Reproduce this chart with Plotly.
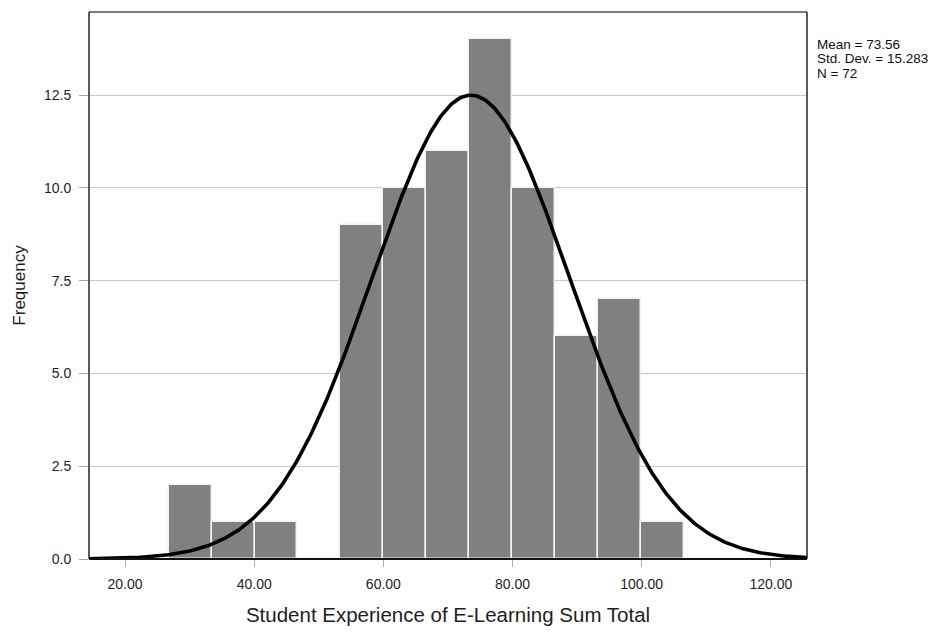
import numpy as np
import plotly.graph_objects as go

# Histogram of summed e-learning experience scores
bin_start = 26.75
bin_width = 6.65
counts = [2, 1, 1, 0, 9, 10, 11, 14, 10, 6, 7, 1]

# Summary statistics shown beside the plot
mean_val = 73.56
sd_val = 15.283
n_val = 72

x_ticks = [20, 40, 60, 80, 100, 120]
x_tick_labels = ["20.00", "40.00", "60.00", "80.00", "100.00", "120.00"]
y_ticks = [0, 2.5, 5, 7.5, 10, 12.5]
y_tick_labels = ["0.0", "2.5", "5.0", "7.5", "10.0", "12.5"]

x_range = [14.42, 125.6]
y_range = [0, 14.74]

centers = [bin_start + bin_width * (i + 0.5) for i in range(len(counts))]

# Fitted normal curve scaled to histogram frequencies
xs = np.linspace(x_range[0], x_range[1], 400)
ys = n_val * bin_width / (sd_val * np.sqrt(2 * np.pi)) * np.exp(-0.5 * ((xs - mean_val) / sd_val) ** 2)

fig = go.Figure()
fig.add_trace(go.Bar(
    x=centers, y=counts, width=[bin_width] * len(counts),
    marker=dict(color="#808080", line=dict(color="#f2f2f2", width=1.5)),
    hoverinfo="skip",
))
fig.add_trace(go.Scatter(
    x=xs, y=ys, mode="lines",
    line=dict(color="#000000", width=3.6),
    hoverinfo="skip",
))

font_family = "Liberation Sans, Arial, sans-serif"
ink = "#1e1e1e"

# Stats block, one line per annotation for tight spacing
stat_lines = [f"Mean = {mean_val:.2f}", f"Std. Dev. = {sd_val:.3f}", f"N = {n_val}"]
plot_top_px, plot_h_px = 12, 547
stat_rows_px = [44.5, 59.0, 73.5]
annotations = [
    dict(xref="paper", yref="paper", x=1.0115, y=1 - (py - plot_top_px) / plot_h_px,
         xanchor="left", yanchor="middle", align="left", showarrow=False,
         text=txt, font=dict(size=13.5, color="#111111", family=font_family))
    for txt, py in zip(stat_lines, stat_rows_px)
]

fig.update_layout(
    width=932, height=633,
    margin=dict(l=89, r=125, t=12, b=74),
    paper_bgcolor="white", plot_bgcolor="white",
    showlegend=False,
    bargap=0,
    font=dict(family=font_family, color=ink),
    xaxis=dict(
        range=x_range, tickvals=x_ticks, ticktext=x_tick_labels,
        showgrid=False, zeroline=False,
        ticks="outside", ticklen=7, tickcolor="#aaaaaa", tickwidth=1,
        ticklabelstandoff=5,
        tickfont=dict(size=14, color=ink),
        title=dict(text="Student Experience of E-Learning Sum Total",
                   font=dict(size=20.5, color=ink), standoff=16),
    ),
    yaxis=dict(
        range=y_range, tickvals=y_ticks, ticktext=y_tick_labels,
        showgrid=True, gridcolor="#c8c8c8", gridwidth=1,
        zeroline=False,
        ticks="outside", ticklen=9, tickcolor="#aaaaaa", tickwidth=1,
        ticklabelstandoff=5,
        tickfont=dict(size=14, color=ink),
        title=dict(text="Frequency", font=dict(size=17, color=ink), standoff=14),
    ),
    shapes=[
        dict(type="line", xref="paper", yref="paper", x0=0, x1=1, y0=1, y1=1,
             line=dict(color="#7a7a7a", width=2)),
        dict(type="line", xref="paper", yref="paper", x0=1, x1=1, y0=0, y1=1,
             line=dict(color="#222222", width=1.5)),
        dict(type="line", xref="paper", yref="paper", x0=0, x1=0, y0=0, y1=1,
             line=dict(color="#222222", width=1.5)),
        dict(type="line", xref="paper", yref="paper", x0=0, x1=1, y0=0, y1=0,
             line=dict(color="#111111", width=2)),
    ],
    annotations=annotations,
)

fig.write_html("out.html")
